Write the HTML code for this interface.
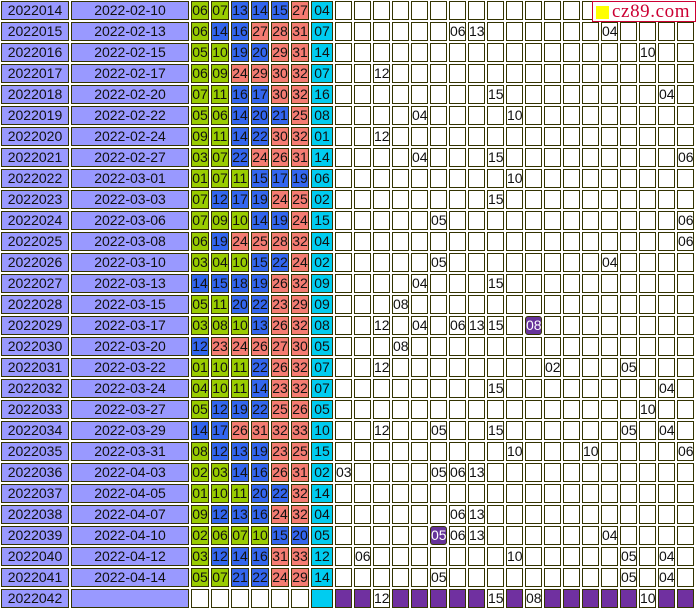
<!DOCTYPE html>
<html><head><meta charset="utf-8"><style>
body{margin:0;width:696px;height:610px;background:#fff;position:relative;overflow:hidden;font-family:"Liberation Sans",Arial,sans-serif;}
.c{position:absolute;box-sizing:border-box;border:1px solid #333300;height:19px;font-size:14px;line-height:17px;text-align:center;color:#111;}
.wm{position:absolute;left:592px;top:1px;width:104px;height:21px;box-sizing:border-box;border:1px solid #cc0033;background:#fff;font-family:"Liberation Serif",serif;font-size:19px;line-height:19px;letter-spacing:0.6px;color:#cc0033;padding-left:19px;}
.wm i{position:absolute;left:3px;top:4px;width:13px;height:13px;background:#ffff00;}
</style></head><body>
<div id="t"></div>
<div class="wm"><i></i>cz89.com</div>
<script>
const issues=['2022014','2022015','2022016','2022017','2022018','2022019','2022020','2022021','2022022','2022023','2022024','2022025','2022026','2022027','2022028','2022029','2022030','2022031','2022032','2022033','2022034','2022035','2022036','2022037','2022038','2022039','2022040','2022041','2022042'];
const dates=['2022-02-10','2022-02-13','2022-02-15','2022-02-17','2022-02-20','2022-02-22','2022-02-24','2022-02-27','2022-03-01','2022-03-03','2022-03-06','2022-03-08','2022-03-10','2022-03-13','2022-03-15','2022-03-17','2022-03-20','2022-03-22','2022-03-24','2022-03-27','2022-03-29','2022-03-31','2022-04-03','2022-04-05','2022-04-07','2022-04-10','2022-04-12','2022-04-14',''];
const reds=[[6,7,13,14,15,27],[6,14,16,27,28,31],[5,10,19,20,29,31],[6,9,24,29,30,32],[7,11,16,17,30,32],[5,6,14,20,21,25],[9,11,14,22,30,32],[3,7,22,24,26,31],[1,7,11,15,17,19],[7,12,17,19,24,25],[7,9,10,14,19,24],[6,19,24,25,28,32],[3,4,10,15,22,24],[14,15,18,19,26,32],[5,11,20,22,23,29],[3,8,10,13,26,32],[12,23,24,26,27,30],[1,10,11,22,26,32],[4,10,11,14,23,32],[5,12,19,22,25,26],[14,17,26,31,32,33],[8,12,13,19,23,25],[2,3,14,16,26,31],[1,10,11,20,22,32],[9,12,13,16,24,32],[2,6,7,10,15,20],[3,12,14,16,31,33],[5,7,21,22,24,29],null];
const blues=[4,7,14,7,16,8,1,14,6,2,15,4,2,9,9,8,5,7,7,5,10,15,2,14,4,5,12,14,null];
// right-side marks: [column, value, highlighted]
const marks=[[],[[6,6],[7,13],[14,4]],[[16,10]],[[2,12]],[[8,15],[17,4]],[[4,4],[9,10]],[[2,12]],[[4,4],[8,15],[18,6]],[[9,10]],[[8,15]],[[5,5],[18,6]],[[18,6]],[[5,5],[14,4]],[[4,4],[8,15]],[[3,8]],[[2,12],[4,4],[6,6],[7,13],[8,15],[10,8,1]],[[3,8]],[[2,12],[11,2],[15,5]],[[8,15],[17,4]],[[16,10]],[[2,12],[5,5],[8,15],[15,5],[17,4]],[[9,10],[13,10],[18,6]],[[0,3],[5,5],[6,6],[7,13]],[],[[6,6],[7,13]],[[5,5,1],[6,6],[7,13],[14,4]],[[1,6],[9,10],[15,5],[17,4]],[[5,5],[15,5],[17,4]],[[2,12],[8,15],[10,8],[16,10]]];
const p=n=>String(n).padStart(2,'0');
const t=document.getElementById('t');
function cell(x,w,y,bg,txt,name,col){const d=document.createElement('div');d.className='c';


d.style.left=(x+1)+'px';d.style.top=(y+1)+'px';d.style.width=(w-2)+'px';d.style.background=bg;if(col)d.style.color=col;d.textContent=txt;t.appendChild(d);return d;}
const ballColor=n=>n<=11?'#99cc00':n<=22?'#3366ee':'#f47c72';
issues.forEach((iss,r)=>{const y=r*21;const last=r===issues.length-1;
cell(0,70,y,'#9999ff',iss,'issue-cell');
cell(70,120,y,'#9999ff',dates[r],'date-cell');
for(let k=0;k<6;k++){const v=reds[r]?reds[r][k]:null;cell(190+k*20,20,y,v?ballColor(v):'#fff',v?p(v):'','red-ball');}
cell(310,24,y,'#00ccf0',blues[r]?p(blues[r]):'','blue-ball');
const m={};marks[r].forEach(a=>m[a[0]]=a);
for(let i=0;i<19;i++){const a=m[i];let bg=last?'#7030a0':'#fff',col=null;
if(a){bg='#fff';if(a[2]){bg='#663399';col='#fff';}}
const d=cell(334+i*19,19,y,bg,a?p(a[1]):'','trend-cell',col);if(a&&a[2])d.style.borderRadius='3px';}
});
</script>
</body></html>
